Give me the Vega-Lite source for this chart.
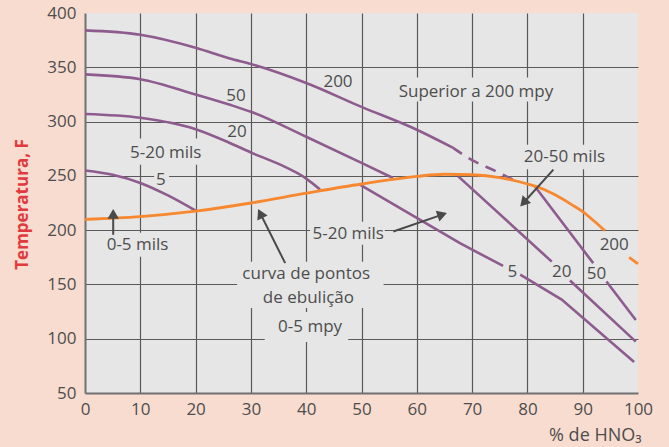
{
  "$schema": "https://vega.github.io/schema/vega-lite/v6.json",
  "width": 553,
  "height": 380,
  "autosize": {"type": "none"},
  "padding": {"left": 85, "top": 13, "right": 31, "bottom": 54},
  "background": "#f9dcd0",
  "config": {
    "view": {"fill": "#e6e6e6", "stroke": null},
    "font": "Open Sans"
  },
  "datasets": {
    "curves": [
      {"seg": "200a", "kind": "curve", "x": 0, "y": 384},
      {"seg": "200a", "kind": "curve", "x": 10, "y": 380},
      {"seg": "200a", "kind": "curve", "x": 20, "y": 368},
      {"seg": "200a", "kind": "curve", "x": 26.2, "y": 358},
      {"seg": "200a", "kind": "curve", "x": 30, "y": 353},
      {"seg": "200a", "kind": "curve", "x": 40, "y": 335.5},
      {"seg": "200a", "kind": "curve", "x": 50, "y": 313.5},
      {"seg": "200a", "kind": "curve", "x": 60, "y": 292.5},
      {"seg": "200a", "kind": "curve", "x": 66.5, "y": 276},
      {"seg": "200b", "kind": "dash", "x": 66.5, "y": 276},
      {"seg": "200b", "kind": "dash", "x": 70, "y": 264.5},
      {"seg": "200b", "kind": "dash", "x": 74, "y": 255},
      {"seg": "200b", "kind": "dash", "x": 77.4, "y": 246.5},
      {"seg": "50a", "kind": "curve", "x": 0, "y": 343.5},
      {"seg": "50a", "kind": "curve", "x": 10, "y": 339},
      {"seg": "50a", "kind": "curve", "x": 20, "y": 325},
      {"seg": "50a", "kind": "curve", "x": 26.2, "y": 315.5},
      {"seg": "50a", "kind": "curve", "x": 30, "y": 309},
      {"seg": "50a", "kind": "curve", "x": 40, "y": 286},
      {"seg": "50a", "kind": "curve", "x": 50, "y": 262},
      {"seg": "50a", "kind": "curve", "x": 55.7, "y": 248},
      {"seg": "20a", "kind": "curve", "x": 0, "y": 307},
      {"seg": "20a", "kind": "curve", "x": 10, "y": 303.5},
      {"seg": "20a", "kind": "curve", "x": 20, "y": 293},
      {"seg": "20a", "kind": "curve", "x": 26.2, "y": 280.3},
      {"seg": "20a", "kind": "curve", "x": 30, "y": 271.5},
      {"seg": "20a", "kind": "curve", "x": 35, "y": 261},
      {"seg": "20a", "kind": "curve", "x": 40, "y": 247.5},
      {"seg": "20a", "kind": "curve", "x": 42.5, "y": 237.5},
      {"seg": "5a", "kind": "curve", "x": 0, "y": 255},
      {"seg": "5a", "kind": "curve", "x": 5, "y": 251},
      {"seg": "5a", "kind": "curve", "x": 10, "y": 243.5},
      {"seg": "5a", "kind": "curve", "x": 15, "y": 232},
      {"seg": "5a", "kind": "curve", "x": 20, "y": 218},
      {"seg": "boil", "kind": "boil", "x": 0, "y": 210},
      {"seg": "boil", "kind": "boil", "x": 10, "y": 212.5},
      {"seg": "boil", "kind": "boil", "x": 20, "y": 217.5},
      {"seg": "boil", "kind": "boil", "x": 30, "y": 225},
      {"seg": "boil", "kind": "boil", "x": 40, "y": 234},
      {"seg": "boil", "kind": "boil", "x": 50, "y": 242.5},
      {"seg": "boil", "kind": "boil", "x": 60, "y": 249.5},
      {"seg": "boil", "kind": "boil", "x": 65, "y": 251.5},
      {"seg": "boil", "kind": "boil", "x": 70, "y": 251},
      {"seg": "boil", "kind": "boil", "x": 75, "y": 248.4},
      {"seg": "boil", "kind": "boil", "x": 80, "y": 242.5},
      {"seg": "boil", "kind": "boil", "x": 83, "y": 237.5},
      {"seg": "boil", "kind": "boil", "x": 85, "y": 232.5},
      {"seg": "boil", "kind": "boil", "x": 88, "y": 223.5},
      {"seg": "boil", "kind": "boil", "x": 90, "y": 217},
      {"seg": "boil", "kind": "boil", "x": 92, "y": 208.6},
      {"seg": "boil", "kind": "boil", "x": 94, "y": 199.5},
      {"seg": "boilend", "kind": "boilend", "x": 98.4, "y": 175},
      {"seg": "boilend", "kind": "boilend", "x": 100, "y": 169},
      {"seg": "5b", "kind": "straight", "x": 49.7, "y": 242},
      {"seg": "5b", "kind": "straight", "x": 67.8, "y": 188},
      {"seg": "5b", "kind": "straight", "x": 75.6, "y": 167},
      {"seg": "5c", "kind": "straight", "x": 78.7, "y": 159},
      {"seg": "5c", "kind": "straight", "x": 86.2, "y": 136},
      {"seg": "5c", "kind": "straight", "x": 99.3, "y": 78.5},
      {"seg": "20b", "kind": "straight", "x": 67.5, "y": 249.5},
      {"seg": "20b", "kind": "straight", "x": 84.4, "y": 171},
      {"seg": "20c", "kind": "straight", "x": 87.7, "y": 153.6},
      {"seg": "20c", "kind": "straight", "x": 99.6, "y": 97.3},
      {"seg": "50b", "kind": "straight", "x": 81.4, "y": 240},
      {"seg": "50b", "kind": "straight", "x": 91.9, "y": 169.6},
      {"seg": "50c", "kind": "straight", "x": 94.3, "y": 152.7},
      {"seg": "50c", "kind": "straight", "x": 99.6, "y": 117.3}
    ],
    "boxes": [
      {"x": 7, "x2": 22, "y": 284.3, "y2": 260.3},
      {"x": 12.5, "x2": 15.2, "y": 254, "y2": 239},
      {"x": 3.4, "x2": 15.4, "y": 197.5, "y2": 175.4},
      {"x": 55.5, "x2": 86, "y": 340.5, "y2": 318.4},
      {"x": 78.3, "x2": 95, "y": 278.6, "y2": 256},
      {"x": 40.7, "x2": 54.2, "y": 207.8, "y2": 186.6},
      {"x": 27.5, "x2": 54, "y": 170.8, "y2": 128.4},
      {"x": 32.5, "x2": 47.6, "y": 124.5, "y2": 97}
    ],
    "labels": [
      {"x": 45.75, "y": 336.8, "t": "200"},
      {"x": 27.3, "y": 324, "t": "50"},
      {"x": 27.5, "y": 290.7, "t": "20"},
      {"x": 14.6, "y": 271.3, "t": "5-20 mils"},
      {"x": 13.7, "y": 246.4, "t": "5"},
      {"x": 70.7, "y": 327.6, "t": "Superior a 200 mpy"},
      {"x": 86.7, "y": 267.4, "t": "20-50 mils"},
      {"x": 9.5, "y": 186.5, "t": "0-5 mils"},
      {"x": 47.6, "y": 196.6, "t": "5-20 mils"},
      {"x": 40, "y": 159.5, "t": "curva de pontos"},
      {"x": 40.4, "y": 137.3, "t": "de ebulição"},
      {"x": 40.7, "y": 110.9, "t": "0-5 mpy"},
      {"x": 77.3, "y": 161.9, "t": "5"},
      {"x": 86.2, "y": 161.9, "t": "20"},
      {"x": 92.5, "y": 159.8, "t": "50"},
      {"x": 95.7, "y": 185.9, "t": "200"}
    ],
    "arrows": [
      {"id": "a1", "x": 5.1, "y": 195.7, "x2": 5.1, "y2": 215},
      {"id": "a2", "x": 36.2, "y": 169.6, "x2": 31.7, "y2": 215.3},
      {"id": "a3", "x": 55.75, "y": 198.8, "x2": 64.6, "y2": 214.3},
      {"id": "a4", "x": 84.7, "y": 255.7, "x2": 79.3, "y2": 225.2}
    ],
    "heads": [
      {"id": "a1", "x": 5.1, "y": 215},
      {"id": "a2", "x": 31.7, "y": 215.3},
      {"id": "a3", "x": 64.6, "y": 214.3},
      {"id": "a4", "x": 79.3, "y": 225.2}
    ]
  },
  "encoding": {
    "x": {
      "field": "x",
      "type": "quantitative",
      "scale": {"domain": [0, 100], "nice": false, "zero": false},
      "axis": {
        "values": [0, 10, 20, 30, 40, 50, 60, 70, 80, 90, 100],
        "grid": true,
        "gridColor": "#595959",
        "gridWidth": 1.2,
        "gridOpacity": {"condition": {"test": "datum.value == 0 || datum.value == 100", "value": 0}, "value": 1},
        "ticks": false,
        "tickSize": 0,
        "labelPadding": 8,
        "labelFlush": false,
        "labelOverlap": false,
        "labelFontSize": 17,
        "labelColor": "#4d4d4d",
        "labelFont": "Open Sans",
        "domainColor": "#707070",
        "domainWidth": 2,
        "title": "% de HNO₃",
        "titleFont": "Open Sans",
        "titleFontSize": 18,
        "titleFontWeight": "normal",
        "titleColor": "#4d4d4d",
        "titleX": 556,
        "titleY": 47,
        "titleAlign": "right",
        "titleBaseline": "alphabetic"
      }
    },
    "y": {
      "field": "y",
      "type": "quantitative",
      "scale": {"domain": [50, 400], "nice": false, "zero": false},
      "axis": {
        "values": [50, 100, 150, 200, 250, 300, 350, 400],
        "grid": true,
        "gridColor": "#595959",
        "gridWidth": 1.2,
        "gridOpacity": {"condition": {"test": "datum.value == 50 || datum.value == 400", "value": 0}, "value": 1},
        "ticks": false,
        "tickSize": 0,
        "labelPadding": 9,
        "labelOverlap": false,
        "labelFontSize": 17,
        "labelColor": "#4d4d4d",
        "labelFont": "Open Sans",
        "domainColor": "#707070",
        "domainWidth": 2,
        "title": "Temperatura, F",
        "titleFont": "Open Sans",
        "titleFontSize": 17,
        "titleFontWeight": "bold",
        "titleColor": "#e03a3e",
        "titleX": -58,
        "titleY": 191,
        "titleAngle": 270,
        "titleAlign": "center",
        "titleBaseline": "alphabetic"
      }
    }
  },
  "layer": [
    {
      "data": {"name": "boxes"},
      "mark": {"type": "rect", "fill": "#e6e6e6"},
      "encoding": {"x2": {"field": "x2"}, "y2": {"field": "y2"}}
    },
    {
      "data": {"name": "curves"},
      "transform": [{"filter": "datum.kind == 'curve'"}],
      "mark": {"type": "line", "color": "#8e5b8e", "strokeWidth": 2.6, "interpolate": "monotone"},
      "encoding": {"detail": {"field": "seg"}}
    },
    {
      "data": {"name": "curves"},
      "transform": [{"filter": "datum.kind == 'dash'"}],
      "mark": {"type": "line", "color": "#8e5b8e", "strokeWidth": 2.6, "interpolate": "monotone", "strokeDash": [11, 8]},
      "encoding": {"detail": {"field": "seg"}}
    },
    {
      "data": {"name": "curves"},
      "transform": [{"filter": "datum.kind == 'straight'"}],
      "mark": {"type": "line", "color": "#8e5b8e", "strokeWidth": 2.6},
      "encoding": {"detail": {"field": "seg"}}
    },
    {
      "data": {"name": "curves"},
      "transform": [{"filter": "datum.kind == 'boil' || datum.kind == 'boilend'"}],
      "mark": {"type": "line", "color": "#f7882f", "strokeWidth": 2.8, "interpolate": "monotone"},
      "encoding": {"detail": {"field": "seg"}}
    },
    {
      "data": {"name": "arrows"},
      "mark": {"type": "rule", "color": "#4a4a4a", "strokeWidth": 2},
      "encoding": {"x2": {"field": "x2"}, "y2": {"field": "y2"}}
    },
    {
      "data": {"name": "heads"},
      "transform": [{"filter": "datum.id == 'a1'"}],
      "mark": {"type": "point", "shape": "triangle-up", "filled": true, "color": "#4a4a4a", "opacity": 1, "size": 130, "angle": 0}
    },
    {
      "data": {"name": "heads"},
      "transform": [{"filter": "datum.id == 'a2'"}],
      "mark": {"type": "point", "shape": "triangle-up", "filled": true, "color": "#4a4a4a", "opacity": 1, "size": 130, "angle": 333.7}
    },
    {
      "data": {"name": "heads"},
      "transform": [{"filter": "datum.id == 'a3'"}],
      "mark": {"type": "point", "shape": "triangle-up", "filled": true, "color": "#4a4a4a", "opacity": 1, "size": 130, "angle": 71}
    },
    {
      "data": {"name": "heads"},
      "transform": [{"filter": "datum.id == 'a4'"}],
      "mark": {"type": "point", "shape": "triangle-up", "filled": true, "color": "#4a4a4a", "opacity": 1, "size": 130, "angle": 222}
    },
    {
      "data": {"name": "labels"},
      "mark": {"type": "text", "fontSize": 17, "color": "#4d4d4d", "font": "Open Sans", "align": "center", "baseline": "middle"},
      "encoding": {"text": {"field": "t"}}
    }
  ]
}
